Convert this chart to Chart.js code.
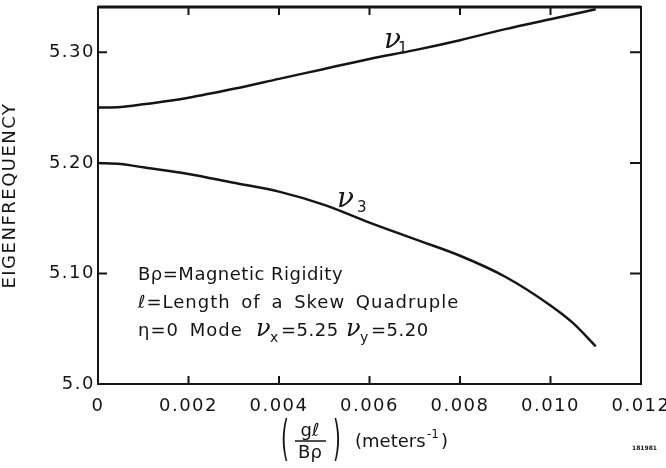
<!DOCTYPE html>
<html>
<head>
<meta charset="utf-8">
<script src="https://cdn.jsdelivr.net/npm/chart.js@4.4.1/dist/chart.umd.min.js"></script>
<style>
  html, body { margin: 0; padding: 0; background: #fff; }
  #wrap { width: 666px; height: 468px; }
</style>
</head>
<body>
<div id="wrap"><canvas id="chart" width="666" height="468"></canvas></div>
<script>
// g*l / B*rho (meters^-1)
const xValues = [0, 0.0005, 0.001, 0.002, 0.003, 0.004, 0.005, 0.006, 0.007, 0.008, 0.009, 0.010, 0.0105, 0.011];
const nu1 = [5.250, 5.2505, 5.253, 5.259, 5.267, 5.276, 5.285, 5.294, 5.302, 5.311, 5.321, 5.330, 5.3345, 5.339];
const nu3 = [5.200, 5.199, 5.196, 5.190, 5.182, 5.174, 5.162, 5.146, 5.131, 5.116, 5.097, 5.071, 5.055, 5.034];

const xTicks = [0, 0.002, 0.004, 0.006, 0.008, 0.010, 0.012];
const xTickLabels = ['0', '0.002', '0.004', '0.006', '0.008', '0.010', '0.012'];
const yTicks = [5.0, 5.1, 5.2, 5.3];
const yTickLabels = ['5.0', '5.10', '5.20', '5.30'];

const ink = '#151515';
const ctx = document.getElementById('chart').getContext('2d');

function toPoints(ys) {
  return xValues.map((x, i) => ({ x, y: ys[i] }));
}

function tallParen(ctx, ch, x, y) {
  // a thin parenthesis stretched to span the fraction
  ctx.save();
  ctx.font = '20px "DejaVu Sans"';
  ctx.translate(x, y);
  ctx.scale(1, 2.4);
  ctx.fillText(ch, 0, 0);
  ctx.restore();
}

// frame, inward ticks and hand-lettered notes
const plotDecor = {
  id: 'plotDecor',
  beforeDraw(chart) {
    chart.ctx.letterSpacing = '1.5px';
  },
  afterDraw(chart) {
    const { ctx, chartArea: a, scales: { x, y } } = chart;
    ctx.save();
    ctx.letterSpacing = '0px';
    ctx.strokeStyle = ink;
    ctx.fillStyle = ink;

    ctx.lineWidth = 2;
    ctx.strokeRect(a.left, a.top, a.right - a.left, a.bottom - a.top);
    ctx.lineWidth = 3;
    ctx.beginPath();
    ctx.moveTo(a.left, a.top);
    ctx.lineTo(a.right, a.top);
    ctx.stroke();

    ctx.lineWidth = 2;
    ctx.beginPath();
    xTicks.slice(1, -1).forEach(v => {
      const px = x.getPixelForValue(v);
      ctx.moveTo(px, a.bottom); ctx.lineTo(px, a.bottom - 8);
      ctx.moveTo(px, a.top); ctx.lineTo(px, a.top + 8);
    });
    yTicks.slice(1).forEach(v => {
      const py = y.getPixelForValue(v);
      ctx.moveTo(a.left, py); ctx.lineTo(a.left + 9, py);
      ctx.moveTo(a.right, py); ctx.lineTo(a.right - 11, py);
    });
    ctx.stroke();

    // curve names
    ctx.font = 'italic 28px "DejaVu Serif"';
    ctx.fillText('ν', 384, 48);
    ctx.fillText('ν', 337, 207);
    ctx.font = '15px "DejaVu Sans"';
    ctx.fillText('1', 398, 53);
    ctx.fillText('3', 357, 212);

    // notes
    ctx.font = '18px "DejaVu Sans"';
    ctx.letterSpacing = '0.5px';
    ctx.fillText('Bρ=Magnetic Rigidity', 138, 280);
    ctx.letterSpacing = '1px';
    ctx.wordSpacing = '4px';
    ctx.fillText('ℓ=Length of a Skew Quadruple', 138, 308);
    ctx.fillText('η=0 Mode', 138, 336);
    ctx.wordSpacing = '0px';
    ctx.letterSpacing = '0.5px';
    ctx.font = 'italic 24px "DejaVu Serif"';
    ctx.fillText('ν', 256, 336);
    ctx.fillText('ν', 346, 336);
    ctx.font = '14px "DejaVu Sans"';
    ctx.fillText('x', 270, 342);
    ctx.fillText('y', 360, 342);
    ctx.font = '18px "DejaVu Sans"';
    ctx.fillText('=5.25', 281, 336);
    ctx.fillText('=5.20', 371, 336);
    ctx.letterSpacing = '0px';

    // x axis title
    tallParen(ctx, '(', 281, 455);
    tallParen(ctx, ')', 333, 455);
    ctx.font = '18px "DejaVu Sans"';
    ctx.textAlign = 'center';
    ctx.fillText('gℓ', 310, 436);
    ctx.fillText('Bρ', 310, 458);
    ctx.lineWidth = 1.5;
    ctx.beginPath();
    ctx.moveTo(295, 441); ctx.lineTo(326, 441);
    ctx.stroke();
    ctx.textAlign = 'left';
    ctx.fillText('(meters', 355, 447);
    ctx.font = '12px "DejaVu Sans"';
    ctx.fillText('-1', 427, 438);
    ctx.font = '18px "DejaVu Sans"';
    ctx.fillText(')', 441, 447);

    ctx.font = 'bold 6px "DejaVu Sans"';
    ctx.fillText('181981', 632, 450);
    ctx.restore();
  }
};

const chart = new Chart(ctx, {
  type: 'line',
  data: {
    datasets: [
      { label: 'ν1', data: toPoints(nu1) },
      { label: 'ν3', data: toPoints(nu3) }
    ]
  },
  options: {
    responsive: false,
    animation: false,
    devicePixelRatio: 1,
    layout: { padding: { top: 7, right: 25, left: 0, bottom: 0 } },
    elements: {
      line: { borderColor: ink, borderWidth: 2.5, cubicInterpolationMode: 'monotone', fill: false },
      point: { radius: 0, hoverRadius: 0 }
    },
    plugins: { legend: { display: false }, tooltip: { enabled: false } },
    scales: {
      x: {
        type: 'linear',
        min: 0,
        max: 0.012,
        afterBuildTicks: s => { s.ticks = xTicks.map(v => ({ value: v })); },
        afterFit: s => { s.height = 84; s.paddingLeft = 0; s.paddingRight = 0; },
        grid: { display: false, drawTicks: false },
        border: { display: false },
        ticks: {
          maxRotation: 0,
          autoSkip: false,
          padding: 12,
          color: ink,
          font: { family: '"DejaVu Sans"', size: 18 },
          callback: (v, i) => xTickLabels[i]
        }
      },
      y: {
        min: 5.0,
        max: 5.341,
        afterBuildTicks: s => { s.ticks = yTicks.map(v => ({ value: v })); },
        afterFit: s => { s.width = 98; s.paddingTop = 0; s.paddingBottom = 0; },
        grid: { display: false, drawTicks: false },
        border: { display: false },
        ticks: {
          padding: 3,
          color: ink,
          font: { family: '"DejaVu Sans"', size: 18 },
          callback: (v, i) => yTickLabels[i]
        },
        title: {
          display: true,
          text: 'EIGENFREQUENCY',
          color: ink,
          padding: { top: 0, bottom: 0 },
          font: { family: '"DejaVu Sans"', size: 18 }
        }
      }
    }
  },
  plugins: [plotDecor]
});
</script>
</body>
</html>
